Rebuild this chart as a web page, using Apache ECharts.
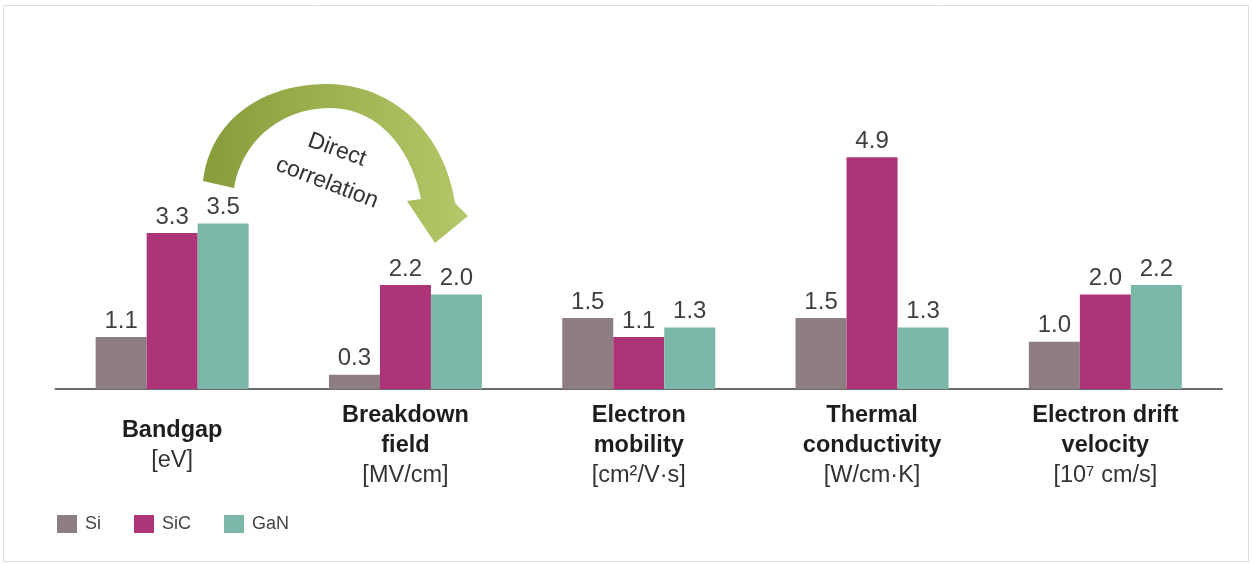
<!DOCTYPE html>
<html>
<head>
<meta charset="utf-8">
<script src="https://cdn.jsdelivr.net/npm/echarts@6/dist/echarts.min.js"></script>
<style>html,body{margin:0;padding:0;background:#fff}#c{width:1252px;height:564px}</style>
</head>
<body>
<div id="c"></div>
<script>
var categories = [
  '{b|Bandgap}\n{u|[eV]}',
  '{b|Breakdown}\n{b|field}\n{u|[MV/cm]}',
  '{b|Electron}\n{b|mobility}\n{u|[cm²/V·s]}',
  '{b|Thermal}\n{b|conductivity}\n{u|[W/cm·K]}',
  '{b|Electron drift}\n{b|velocity}\n{u|[10⁷ cm/s]}'
];
var seriesNames = ['Si', 'SiC', 'GaN'];
var siValues  = [1.1, 0.3, 1.5, 1.5, 1.0];
var sicValues = [3.3, 2.2, 1.1, 4.9, 2.0];
var ganValues = [3.5, 2.0, 1.3, 1.3, 2.2];
var colors = ['#8e7e81', '#ae3479', '#7cb8a9'];

var FONT = '"Liberation Sans", Arial, sans-serif';

// decorative arrow outline (sampled cubic curves)
function cubic(p0, p1, p2, p3, n) {
  var out = [];
  for (var i = 1; i <= n; i++) {
    var t = i / n, u = 1 - t;
    out.push([
      u*u*u*p0[0] + 3*u*u*t*p1[0] + 3*u*t*t*p2[0] + t*t*t*p3[0],
      u*u*u*p0[1] + 3*u*u*t*p1[1] + 3*u*t*t*p2[1] + t*t*t*p3[1]
    ]);
  }
  return out;
}
var arrowPts = [[203, 181]]
  .concat(cubic([203,181],[210,120],[262,84],[327,84], 24))
  .concat(cubic([327,84],[392,84],[444,132],[455,203], 24))
  .concat([[468,216],[435,243],[407,201],[421,199]])
  .concat(cubic([421,199],[410,145],[376,108],[330,108], 24))
  .concat(cubic([330,108],[282,108],[242,140],[234,188], 24));

var chart = echarts.init(document.getElementById('c'));
function mk(name, data, color) {
  return {
    name: name, type: 'bar', data: data, barWidth: 51, barGap: '0%',
    itemStyle: { color: color },
    label: { show: true, position: 'top', distance: 4, fontFamily: FONT, fontSize: 24, color: '#3f3f3f',
      formatter: function (p) { return p.value.toFixed(1); } }
  };
}
chart.setOption({
  animation: false,
  backgroundColor: '#fff',
  grid: { left: 55.5, right: 30, top: 152.5, bottom: 175 },
  legend: {
    left: 57, top: 515, padding: 0, icon: 'rect', itemWidth: 20, itemHeight: 18, itemGap: 33,
    textStyle: { fontFamily: FONT, fontSize: 18, color: '#444', padding: [0, 0, 0, 3] },
    data: seriesNames
  },
  xAxis: {
    type: 'category', data: categories, boundaryGap: true,
    axisLine: { lineStyle: { color: '#6a6a6a', width: 2 } },
    axisTick: { show: false },
    axisLabel: {
      interval: 0, margin: 57, verticalAlign: 'middle', align: 'center',
      rich: {
        b: { fontFamily: FONT, fontSize: 23.5, fontWeight: 'bold', color: '#1e1e1e', lineHeight: 30, align: 'center' },
        u: { fontFamily: FONT, fontSize: 23.5, color: '#333', lineHeight: 31, align: 'center' }
      }
    }
  },
  yAxis: { type: 'value', min: 0, max: 5, show: false, splitLine: { show: false } },
  series: [mk(seriesNames[0], siValues, colors[0]), mk(seriesNames[1], sicValues, colors[1]), mk(seriesNames[2], ganValues, colors[2])],
  graphic: [
    { type: 'rect', shape: { x: 3.5, y: 5.5, width: 1245, height: 556 }, style: { fill: 'none', stroke: '#dedede', lineWidth: 1 }, silent: true },
    { type: 'polygon', silent: true,
      shape: { points: arrowPts },
      style: { fill: { type: 'linear', x: 0, y: 0, x2: 1, y2: 0, colorStops: [{ offset: 0, color: '#879c3a' }, { offset: 1, color: '#b4c869' }] } }
    },
    { type: 'text', x: 337, y: 150, rotation: -20 * Math.PI / 180, silent: true,
      style: { text: 'Direct', font: '23px ' + FONT, fill: '#333', align: 'center', verticalAlign: 'middle' } },
    { type: 'text', x: 327, y: 183, rotation: -21 * Math.PI / 180, silent: true,
      style: { text: 'correlation', font: '23px ' + FONT, fill: '#333', align: 'center', verticalAlign: 'middle' } }
  ]
});
</script>
</body>
</html>
